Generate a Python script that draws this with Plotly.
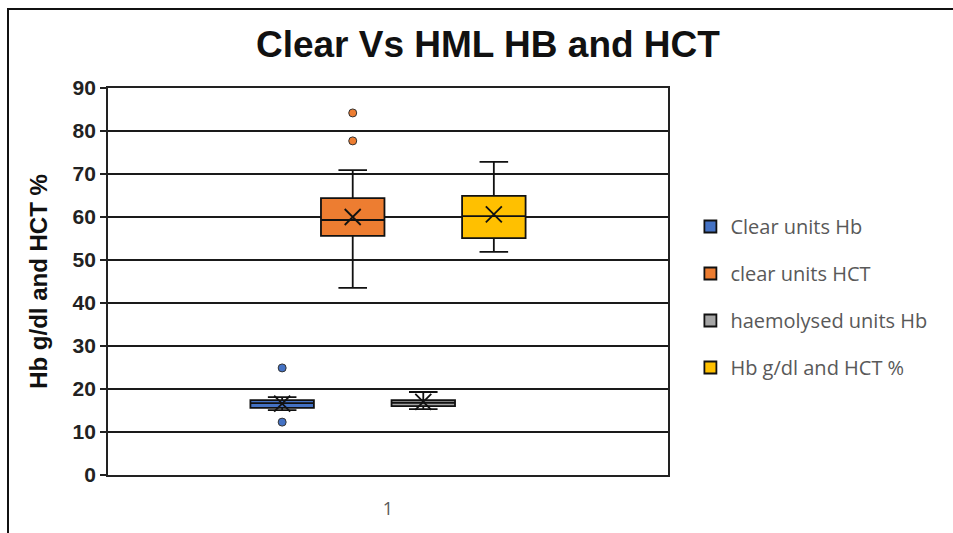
import plotly.graph_objects as go

# ---- data ----
categories = ["1"]
series_names = ["Clear units Hb", "clear units HCT", "haemolysed units Hb", "Hb g/dl and HCT %"]
lower_whisker = [15.1, 43.5, 15.3, 51.9]
q1_vals = [15.6, 55.6, 16.0, 55.1]
median_vals = [16.7, 59.3, 16.8, 60.2]
q3_vals = [17.4, 64.4, 17.4, 64.9]
upper_whisker = [18.1, 70.9, 19.3, 72.8]
mean_vals = [16.6, 60.0, 17.0, 60.6]
outliers = [[24.9, 12.3], [84.2, 77.7], [], []]
y_tick_vals = [0, 10, 20, 30, 40, 50, 60, 70, 80, 90]

colors = ["#4472C4", "#ED7D31", "#A5A5A5", "#FFC000"]

BOXGAP = 0.496
BOXGROUPGAP = 0.1

fig = go.Figure()

for i, name in enumerate(series_names):
    g = f"g{i}"
    fig.add_trace(go.Box(
        x=categories, name=name,
        q1=[q1_vals[i]], median=[median_vals[i]], q3=[q3_vals[i]],
        lowerfence=[lower_whisker[i]], upperfence=[upper_whisker[i]],
        fillcolor=colors[i], line=dict(color="#111111", width=1.8),
        whiskerwidth=0.45, boxpoints=False, offsetgroup=g,
        legendgroup=g, hoverinfo="skip",
    ))

for i, name in enumerate(series_names):
    g = f"g{i}"
    if outliers[i]:
        fig.add_trace(go.Scatter(
            x=categories * len(outliers[i]), y=outliers[i], mode="markers",
            marker=dict(symbol="circle", size=8, color=colors[i],
                        line=dict(color="#333333", width=1)),
            offsetgroup=g, showlegend=False, hoverinfo="skip",
        ))
    fig.add_trace(go.Scatter(
        x=categories, y=[mean_vals[i]], mode="markers",
        marker=dict(symbol="x-thin", size=16, color="#111111",
                    line=dict(color="#111111", width=1.8)),
        offsetgroup=g, showlegend=False, hoverinfo="skip",
    ))

fig.update_layout(
    width=953, height=533,
    margin=dict(l=108, r=285, t=88, b=58),
    paper_bgcolor="white", plot_bgcolor="white",
    boxmode="group", boxgap=BOXGAP, boxgroupgap=BOXGROUPGAP,
    scattermode="group", scattergap=BOXGAP,
    title=dict(text="<b>Clear Vs HML HB and HCT</b>", x=0.512, xanchor="center",
               y=0.918, yanchor="middle",
               font=dict(family="Liberation Sans, Arial", size=37, color="#111111")),
    font=dict(family="Liberation Sans, Arial", color="#111111"),
    showlegend=True,
    legend=dict(x=1.04, xanchor="left", y=0.46, yanchor="middle",
                traceorder="grouped", tracegroupgap=18,
                font=dict(family="Open Sans, Noto Sans", size=20, color="#595959"),
                bgcolor="rgba(0,0,0,0)"),
    xaxis=dict(type="category", range=[-0.5, 0.5], showgrid=False,
               showline=True, mirror=True, linecolor="#222222", linewidth=1.8,
               ticks="", tickfont=dict(family="Open Sans, Noto Sans", size=18, color="#595959"),
               ticklabelstandoff=16, zeroline=False),
    yaxis=dict(range=[0, 90], tickvals=y_tick_vals, showgrid=True,
               gridcolor="#1a1a1a", gridwidth=1.5,
               showline=True, mirror=True, linecolor="#222222", linewidth=1.8,
               ticks="outside", ticklen=6, tickcolor="#222222", tickwidth=1.5,
               tickfont=dict(family="Liberation Sans, Arial", size=21, color="#222222",
                             weight="bold"),
               title=dict(text="<b>Hb g/dl and HCT %</b>", standoff=18,
                          font=dict(family="Liberation Sans, Arial", size=24, color="#111111")),
               zeroline=False),
    shapes=[dict(type="rect", xref="paper", yref="paper",
                 x0=(8 - 108) / 560, x1=1.7, y0=-0.4, y1=(475 - 9) / 387,
                 line=dict(color="#111111", width=2), fillcolor="rgba(0,0,0,0)",
                 layer="below")],
)

fig.write_html("out.html")
